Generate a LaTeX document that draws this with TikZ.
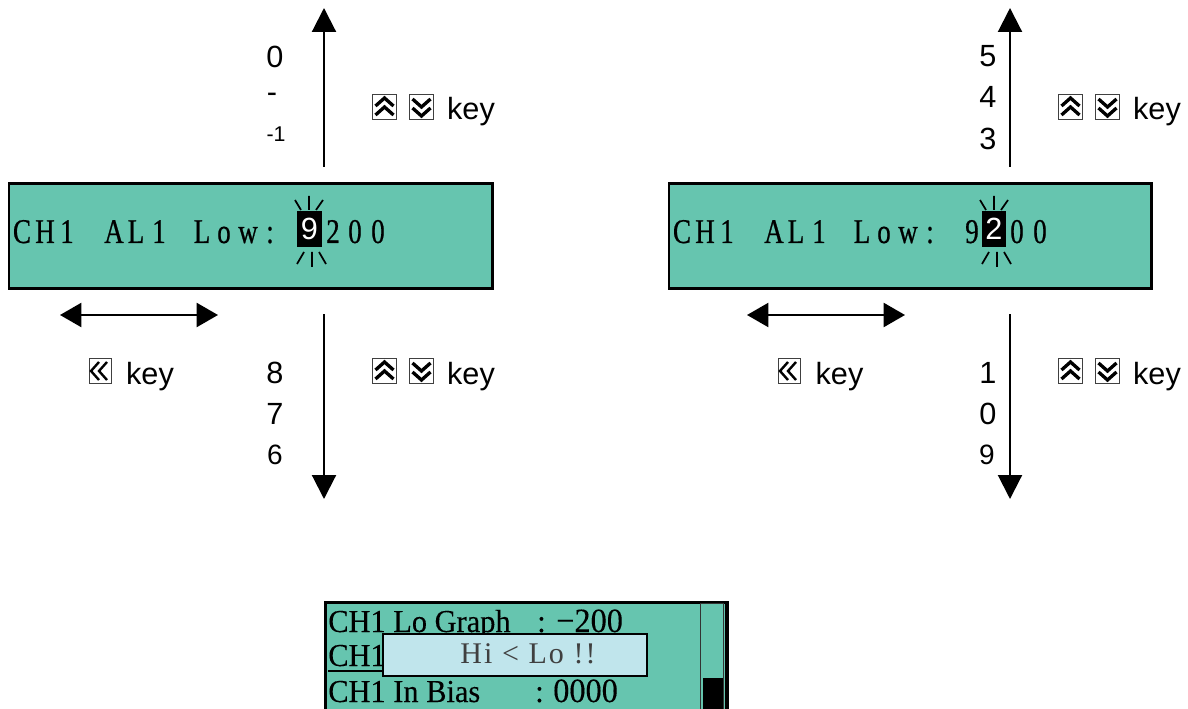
\documentclass[tikz,border=0pt]{standalone}
\usepackage{fontspec}
\setmainfont{Liberation Sans}
\newfontfamily\lcdfont[FakeStretch=0.78,FakeBold=0.6]{Liberation Serif}
\newfontfamily\menufont[FakeStretch=0.95,FakeBold=0.2]{Liberation Serif}
\newfontfamily\popfont[LetterSpace=7]{Liberation Serif}
\usetikzlibrary{arrows.meta}
\definecolor{lcdteal}{HTML}{66C5AF}
\definecolor{popblue}{HTML}{C0E5EC}
\tikzset{
  x=0.75pt,y=-0.75pt,
  lcdbox/.style={draw=black,fill=lcdteal,line width=2.2pt,rectangle,inner sep=0pt,anchor=north west},
  lcdtext/.style={font=\lcdfont\fontsize{26}{26}\selectfont,inner sep=0pt,anchor=base},
  lbl/.style={font=\fontsize{23}{23}\selectfont,inner sep=0pt,anchor=base},
  lblsmall/.style={font=\fontsize{16}{16}\selectfont,inner sep=0pt,anchor=base},
  menu/.style={font=\menufont\fontsize{24}{24}\selectfont,inner sep=0pt,anchor=base west},
  menunum/.style={font=\menufont\fontsize{25.5}{25}\selectfont,inner sep=0pt,anchor=base west},
  arrow/.style={line width=1.6pt,-{Triangle[length=18pt,width=18pt]}},
  dblarrow/.style={line width=1.6pt,{Triangle[length=16pt,width=18pt]}-{Triangle[length=16pt,width=18pt]}},
  ray/.style={line width=1.3pt},
  keybox/.style={draw=black!75,fill=white,line width=0.7pt,rectangle,minimum width=18.5pt,minimum height=18.5pt,inner sep=0pt},
  chev/.style={line width=2.5pt,miter limit=10},
  upkey/.pic={
    \node[keybox] (-box) at (0,0) {};
    \draw[chev] (-9,-1) -- (0,-9) -- (9,-1);
    \draw[chev] (-9,8) -- (0,0) -- (9,8);
  },
  downkey/.pic={
    \node[keybox] (-box) at (0,0) {};
    \draw[chev] (-9,-8) -- (0,0) -- (9,-8);
    \draw[chev] (-9,1) -- (0,9) -- (9,1);
  },
  leftkey/.pic={
    \node[keybox,minimum width=16.5pt] (-box) at (0,0) {};
    \draw[line width=1.8pt] (-1,-9) -- (-9,0) -- (-1,9);
    \draw[line width=1.8pt] (7,-9) -- (-1,0) -- (7,9);
  },
}
\begin{document}
\begin{tikzpicture}
\useasboundingbox (0,0) rectangle (1188,709);
\clip (0,0) rectangle (1188,709);

% ---------- left display
\node[lcdbox,minimum width=362.5pt,minimum height=78.5pt] (lcdA) at (7.5,182) {};
\foreach \ch/\px [count=\i] in {C/22,H/45,1/67,A/114,L/136,1/159,L/202,o/224,w/248,:/270}
  \node[lcdtext] (lcdAc\i) at (\px,243) {\ch};
\node[fill=black,minimum width=18.7pt,minimum height=27pt,inner sep=0pt] (curA) at (309.5,229) {};
\node[lcdtext,text=white,font=\fontsize{23}{23}\selectfont] (dA1) at (309.5,240) {9};
\node[lcdtext] (dA2) at (333,243) {2};
\node[lcdtext] (dA3) at (355,243) {0};
\node[lcdtext] (dA4) at (378,243) {0};
\draw[ray] (309,196) -- (309,210) (295,200) -- (301,210) (323,200) -- (316,210)
           (297,264) -- (304,252) (312,252) -- (312,267) (319,252) -- (326,264);

% ---------- right display
\node[lcdbox,minimum width=362pt,minimum height=78.5pt] (lcdB) at (667.5,182) {};
\foreach \ch/\px [count=\i] in {C/682,H/705,1/727,A/774,L/796,1/819,L/862,o/884,w/908,:/930}
  \node[lcdtext] (lcdBc\i) at (\px,243) {\ch};
\node[fill=black,minimum width=17.5pt,minimum height=27pt,inner sep=0pt] (curB) at (994,229) {};
\node[lcdtext] (dB1) at (972,243) {9};
\node[lcdtext,text=white,font=\fontsize{23}{23}\selectfont] (dB2) at (994,240) {2};
\node[lcdtext] (dB3) at (1017,243) {0};
\node[lcdtext] (dB4) at (1040,243) {0};
\draw[ray] (994,196) -- (994,210) (980,200) -- (986,210) (1008,200) -- (1001,210)
           (982,264) -- (989,252) (997,252) -- (997,267) (1004,252) -- (1011,264);

% ---------- arrows
\coordinate (aUs) at (324,167); \coordinate (aUe) at (324,8);
\coordinate (aDs) at (324,314); \coordinate (aDe) at (324,499);
\coordinate (aHs) at (60,315);  \coordinate (aHe) at (218,315);
\coordinate (bUs) at (1010,167); \coordinate (bUe) at (1010,8);
\coordinate (bDs) at (1010,314); \coordinate (bDe) at (1010,499);
\coordinate (bHs) at (747,315);  \coordinate (bHe) at (905,315);
\draw[arrow] (aUs) -- (aUe);
\draw[arrow] (aDs) -- (aDe);
\draw[dblarrow] (aHs) -- (aHe);
\draw[arrow] (bUs) -- (bUe);
\draw[arrow] (bDs) -- (bDe);
\draw[dblarrow] (bHs) -- (bHe);

% ---------- digit labels
\node[lbl] (la0) at (275,68) {0};
\node[lbl] (la1) at (272,103) {-};
\node[lblsmall] (la2) at (276,142) {-1};
\node[lbl] (la3) at (275,383) {8};
\node[lbl] (la4) at (275,424) {7};
\node[lblsmall,font=\fontsize{21}{21}\selectfont] (la5) at (275,464) {6};
\node[lbl] (lb0) at (988,67) {5};
\node[lbl] (lb1) at (988,108) {4};
\node[lbl] (lb2) at (988,150) {3};
\node[lbl] (lb3) at (988,383) {1};
\node[lbl] (lb4) at (988,424) {0};
\node[lblsmall,font=\fontsize{21}{21}\selectfont] (lb5) at (987,464) {9};

% ---------- key hints
\pic (ka1) at (384.5,107) {upkey};
\pic (ka2) at (421.5,107) {downkey};
\node[lbl] (ka3) at (471,120) {key};
\pic (ka4) at (384.5,371) {upkey};
\pic (ka5) at (421.5,371) {downkey};
\node[lbl] (ka6) at (471,384) {key};
\pic (ka7) at (100,371) {leftkey};
\node[lbl] (ka8) at (150,384) {key};
\pic (kb1) at (1070.5,107) {upkey};
\pic (kb2) at (1107.5,107) {downkey};
\node[lbl] (kb3) at (1157,120) {key};
\pic (kb4) at (1070.5,371) {upkey};
\pic (kb5) at (1107.5,371) {downkey};
\node[lbl] (kb6) at (1157,384) {key};
\pic (kb7) at (789,371) {leftkey};
\node[lbl] (kb8) at (839.5,384) {key};

% ---------- bottom screen
\node[lcdbox,line width=2.6pt,minimum width=301pt,minimum height=100pt] (scr) at (324,600.5) {};
\node[draw=black!80,fill=lcdteal,line width=0.9pt,minimum width=17pt,minimum height=100pt,inner sep=0pt,anchor=north west] (bar) at (700,603) {};
\node[fill=black,minimum width=15pt,minimum height=30pt,inner sep=0pt,anchor=north west] (thumb) at (703,678) {};
\node[menu] (m1) at (328,632) {CH1 Lo Graph};
\node[menu] (m1b) at (537,632) {:};
\node[menunum] (m1c) at (556,632) {−200};
\node[menu] (m2) at (328,666) {CH1};
\draw[line width=1.3pt] (328,671) -- (382,671);
\node[menu] (m3) at (328,702) {CH1 In Bias};
\node[menu] (m3b) at (535,702) {:};
\node[menunum] (m3c) at (553,702) {0000};
\node[draw=black,fill=popblue,line width=1.6pt,minimum width=198pt,minimum height=31.5pt,inner sep=0pt,anchor=north west] (pop) at (381.5,632.5) {};
\node[font=\popfont\fontsize{22.5}{22.5}\selectfont,text=black!75,inner sep=0pt,anchor=base] (poptxt) at (528,663) {Hi < Lo !!};
\end{tikzpicture}
\end{document}
